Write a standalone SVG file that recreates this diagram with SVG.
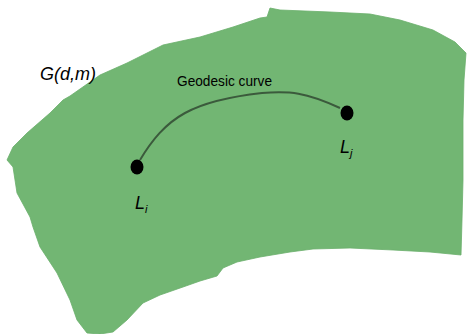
<svg xmlns="http://www.w3.org/2000/svg" width="467" height="334" viewBox="0 0 467 334">
<style>
.region{fill:#72b673;stroke:#6aae6b;stroke-width:0.8}
.curve{fill:none;stroke:#3b5a3c;stroke-width:2}
.pt{fill:#000}
.lbl{font-family:"Liberation Sans",Arial,sans-serif;fill:#000}
.it{font-style:italic}
</style>
<g id="manifold">
<path class="region" d="M270,8 L280,10 L330,12 L370,14 L400,20 L433,30 L455,42 L466,53 L464,80 L463,120 L463,180 L462,220 L461,255 L430,252 L393,250 L350,248 L313,249 L290,252 L260,257 L237,262 L223,268 L217,276 L200,281 L183,287 L160,295 L143,303 L127,320 L113,332 L100,334 L87,333 L77,320 L70,300 L57,273 L40,247 L33,227 L30,217 L17,193 L13,167 L7,160 L13,147 L27,133 L50,113 L63,100 L70,96 L100,75 L127,63 L163,45 L200,37 L233,27 L260,18 L267,17 Z"/>
<text class="lbl it" x="40" y="80" font-size="18">G(d,m)</text>
</g>
<g id="connectors">
<path class="curve" d="M140,160 C152,140 165,124 185,113 C205,102 235,96 262,93 C290,91 305,92 340,108"/>
<text class="lbl" x="177" y="86" font-size="15" textLength="95" lengthAdjust="spacingAndGlyphs">Geodesic curve</text>
</g>
<g id="Li">
<ellipse class="pt" cx="137" cy="167" rx="6.5" ry="7.5"/>
<text class="lbl it" x="135" y="209" font-size="18">L<tspan font-size="11" dy="4">i</tspan></text>
</g>
<g id="Lj">
<ellipse class="pt" cx="347" cy="113" rx="6.5" ry="7.5"/>
<text class="lbl it" x="340" y="153" font-size="18">L<tspan font-size="11" dy="4">j</tspan></text>
</g>
</svg>
